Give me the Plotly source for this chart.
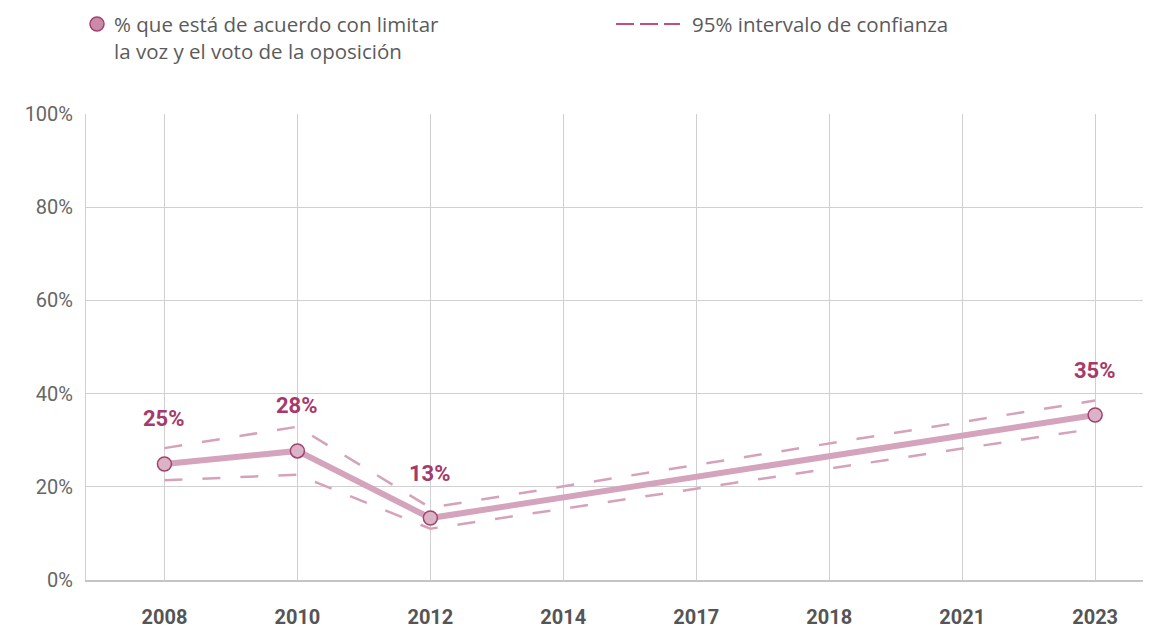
import plotly.graph_objects as go

years = ["2008", "2010", "2012", "2014", "2017", "2018", "2021", "2023"]
obs_years = ["2008", "2010", "2012", "2023"]
pct = [24.9, 27.7, 13.3, 35.4]
ci_upper = [28.3, 32.9, 15.5, 38.5]
ci_lower = [21.4, 22.6, 11.0, 32.5]
y_ticks = [0, 20, 40, 60, 80, 100]
y_tick_labels = ["0%", "20%", "40%", "60%", "80%", "100%"]

series_name = "% que está de acuerdo con limitar<br>la voz y el voto de la oposición"
ci_name = "95% intervalo de confianza"

LINE = "#D4A3BC"
DASH = "#D6A2BA"
DARK = "#A63A6B"
TEXT = "#5b5b5b"

# page body has an 8px default margin; the figure is sized to fit inside it
OFF = 8
W, H = 1155 - OFF, 628 - OFF
ML, MR, MT, MB = 86 - OFF, 12, 114 - OFF, 48
PW, PH = W - ML - MR, H - MT - MB

def px_x(px):
    return (px - OFF - ML) / PW

def px_y(py):
    return (H - MB - (py - OFF)) / PH

fig = go.Figure()
for ci in (ci_upper, ci_lower):
    fig.add_trace(go.Scatter(
        x=obs_years, y=ci, mode="lines", showlegend=False, hoverinfo="skip",
        line=dict(color=DASH, width=2.5, dash="18px,20px"),
    ))
fig.add_trace(go.Scatter(
    x=obs_years, y=pct, mode="lines+markers", showlegend=False,
    line=dict(color=LINE, width=6),
    marker=dict(size=14, color="#DBB3C6", line=dict(color="#A3426F", width=1.5)),
))

for yr, v in zip(obs_years, pct):
    fig.add_annotation(
        x=years.index(yr), y=v, text=f"<b>{round(v)}%</b>", showarrow=False, yshift=45,
        font=dict(family="Roboto", size=22, color=DARK),
    )

# legend (manual)
fig.add_shape(type="circle", xref="paper", yref="paper",
              x0=px_x(90), x1=px_x(104), y0=px_y(31), y1=px_y(17),
              fillcolor="#C98BA8", line=dict(color="#A3426F", width=1.5))
fig.add_annotation(xref="paper", yref="paper", x=px_x(112), y=px_y(8),
                   xanchor="left", yanchor="top", align="left", showarrow=False,
                   text=series_name,
                   font=dict(family="Open Sans", size=20.5, color=TEXT))
fig.add_shape(type="line", xref="paper", yref="paper",
              x0=px_x(616), x1=px_x(680), y0=px_y(24), y1=px_y(24),
              line=dict(color="#C94A7E", width=1.8, dash="18px,6px"))
fig.add_annotation(xref="paper", yref="paper", x=px_x(690), y=px_y(24),
                   xanchor="left", yanchor="middle", showarrow=False,
                   text=ci_name,
                   font=dict(family="Open Sans", size=20.5, color=TEXT))

fig.update_layout(
    width=W, height=H,
    margin=dict(l=ML, r=MR, t=MT, b=MB, autoexpand=False),
    paper_bgcolor="white", plot_bgcolor="white",
    showlegend=False,
    xaxis=dict(
        type="category", categoryorder="array", categoryarray=years,
        tickvals=years, ticktext=years,
        range=[-0.59, 7.36], automargin=False,
        showgrid=True, gridcolor="#d0d0d0", gridwidth=1,
        showline=True, linecolor="#c4c4c4", linewidth=2,
        ticks="", ticklabelstandoff=18,
        tickfont=dict(family="Roboto", size=20, color="#555555", weight="bold"),
        zeroline=False,
    ),
    yaxis=dict(
        range=[0, 100], tickvals=y_ticks, ticktext=y_tick_labels, automargin=False,
        showgrid=True, gridcolor="#d0d0d0", gridwidth=1,
        showline=True, linecolor="#d0d0d0", linewidth=1,
        ticks="", ticklabelstandoff=8,
        tickfont=dict(family="Roboto", size=20, color="#666666"),
        zeroline=False,
    ),
)

fig.write_html("out.html")
